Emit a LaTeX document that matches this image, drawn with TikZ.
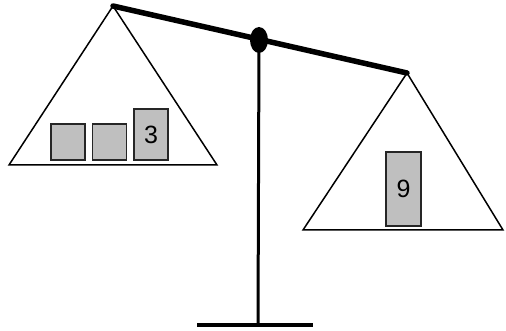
\documentclass[tikz,border=0pt]{standalone}
\usepackage{fontspec}
\setmainfont{Liberation Sans}
\begin{document}
\begin{tikzpicture}[x=1pt,y=-1pt,
  pan/.style={draw=black,line width=1.5pt,line join=miter},
  weight/.style={draw=black!85,fill=black!25,line width=1.3pt,inner sep=0pt,font=\fontsize{25}{25}\selectfont},
]
\useasboundingbox (0,0) rectangle (506,331);
% coordinates
\coordinate (la) at (113,6);
\coordinate (ll) at (9,165);
\coordinate (lr) at (217,165);
\coordinate (ra) at (407,73);
\coordinate (rl) at (303,230);
\coordinate (rr) at (503,230);
\coordinate (pivot) at (259,40);
\coordinate (foot) at (258,325);
\coordinate (bl) at (197,325);
\coordinate (br) at (313,325);
% pans
\draw[pan] (la) -- (ll) -- (lr) -- cycle;
\draw[pan] (ra) -- (rl) -- (rr) -- cycle;
% stand
\draw[line width=3pt] (pivot) -- (foot);
\draw[line width=4pt] (bl) -- (br);
% beam
\draw[line width=5.5pt,line cap=round] (la) -- (ra);
\fill (pivot) ellipse [x radius=9,y radius=13];
% weights
\node[weight,minimum width=34pt,minimum height=36pt] (w1) at (68,142) {};
\node[weight,minimum width=34pt,minimum height=36pt] (w2) at (109.5,142) {};
\node[weight,minimum width=34pt,minimum height=51pt] (w3) at (151,134.5) {3};
\node[weight,minimum width=35pt,minimum height=74pt] (w4) at (403.5,189) {9};
\end{tikzpicture}
\end{document}
